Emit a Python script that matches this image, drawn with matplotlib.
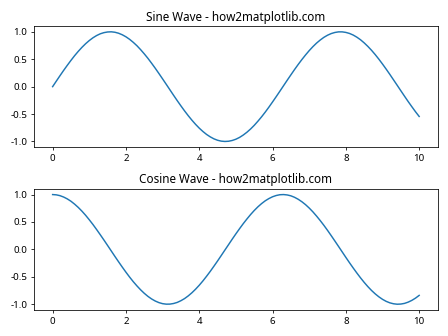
import matplotlib
matplotlib.use('Agg')
import matplotlib.pyplot as plt
import numpy as np

plt.rcParams['font.family'] = ['Noto Sans', 'DejaVu Sans']
plt.rcParams['axes.unicode_minus'] = False

# sample positions (step 0.1 from 0 to 10)
x_vals = np.linspace(0, 10, 101)

# values
sine_vals = [0.000, 0.100, 0.199, 0.296, 0.389, 0.479, 0.565, 0.644, 0.717, 0.783,
             0.841, 0.891, 0.932, 0.964, 0.985, 0.997, 1.000, 0.992, 0.974, 0.946,
             0.909, 0.863, 0.808, 0.746, 0.675, 0.598, 0.516, 0.427, 0.335, 0.239,
             0.141, 0.042, -0.058, -0.158, -0.256, -0.351, -0.443, -0.530, -0.612, -0.688,
             -0.757, -0.818, -0.872, -0.916, -0.952, -0.978, -0.994, -1.000, -0.996, -0.982,
             -0.959, -0.926, -0.883, -0.832, -0.773, -0.706, -0.631, -0.551, -0.465, -0.374,
             -0.279, -0.182, -0.083, 0.017, 0.117, 0.215, 0.312, 0.405, 0.494, 0.578,
             0.657, 0.729, 0.794, 0.850, 0.899, 0.938, 0.968, 0.988, 0.999, 0.999,
             0.989, 0.970, 0.941, 0.902, 0.855, 0.798, 0.734, 0.663, 0.585, 0.501,
             0.412, 0.319, 0.223, 0.124, 0.025, -0.075, -0.174, -0.272, -0.366, -0.458,
             -0.544]

# values
cosine_vals = [1.000, 0.995, 0.980, 0.955, 0.921, 0.878, 0.825, 0.765, 0.697, 0.622,
               0.540, 0.454, 0.362, 0.267, 0.170, 0.071, -0.029, -0.129, -0.227, -0.323,
               -0.416, -0.505, -0.589, -0.666, -0.737, -0.801, -0.857, -0.904, -0.942, -0.971,
               -0.990, -0.999, -0.998, -0.987, -0.967, -0.936, -0.897, -0.848, -0.791, -0.726,
               -0.654, -0.575, -0.490, -0.401, -0.307, -0.211, -0.112, -0.012, 0.087, 0.187,
               0.284, 0.378, 0.469, 0.554, 0.635, 0.709, 0.776, 0.835, 0.886, 0.927,
               0.960, 0.983, 0.997, 1.000, 0.993, 0.977, 0.950, 0.914, 0.869, 0.816,
               0.754, 0.685, 0.608, 0.526, 0.439, 0.347, 0.251, 0.153, 0.054, -0.046,
               -0.146, -0.244, -0.339, -0.431, -0.519, -0.602, -0.679, -0.749, -0.811, -0.865,
               -0.911, -0.948, -0.975, -0.992, -1.000, -0.997, -0.985, -0.962, -0.930, -0.889,
               -0.839]

fig, (ax1, ax2) = plt.subplots(2, 1, figsize=(6.4, 4.8), dpi=70)

ax1.plot(x_vals, sine_vals)
ax1.set_title('Sine Wave - how2matplotlib.com')

ax2.plot(x_vals, cosine_vals)
ax2.set_title('Cosine Wave - how2matplotlib.com')

plt.tight_layout()
plt.savefig('out.png', dpi=70)
plt.close()
